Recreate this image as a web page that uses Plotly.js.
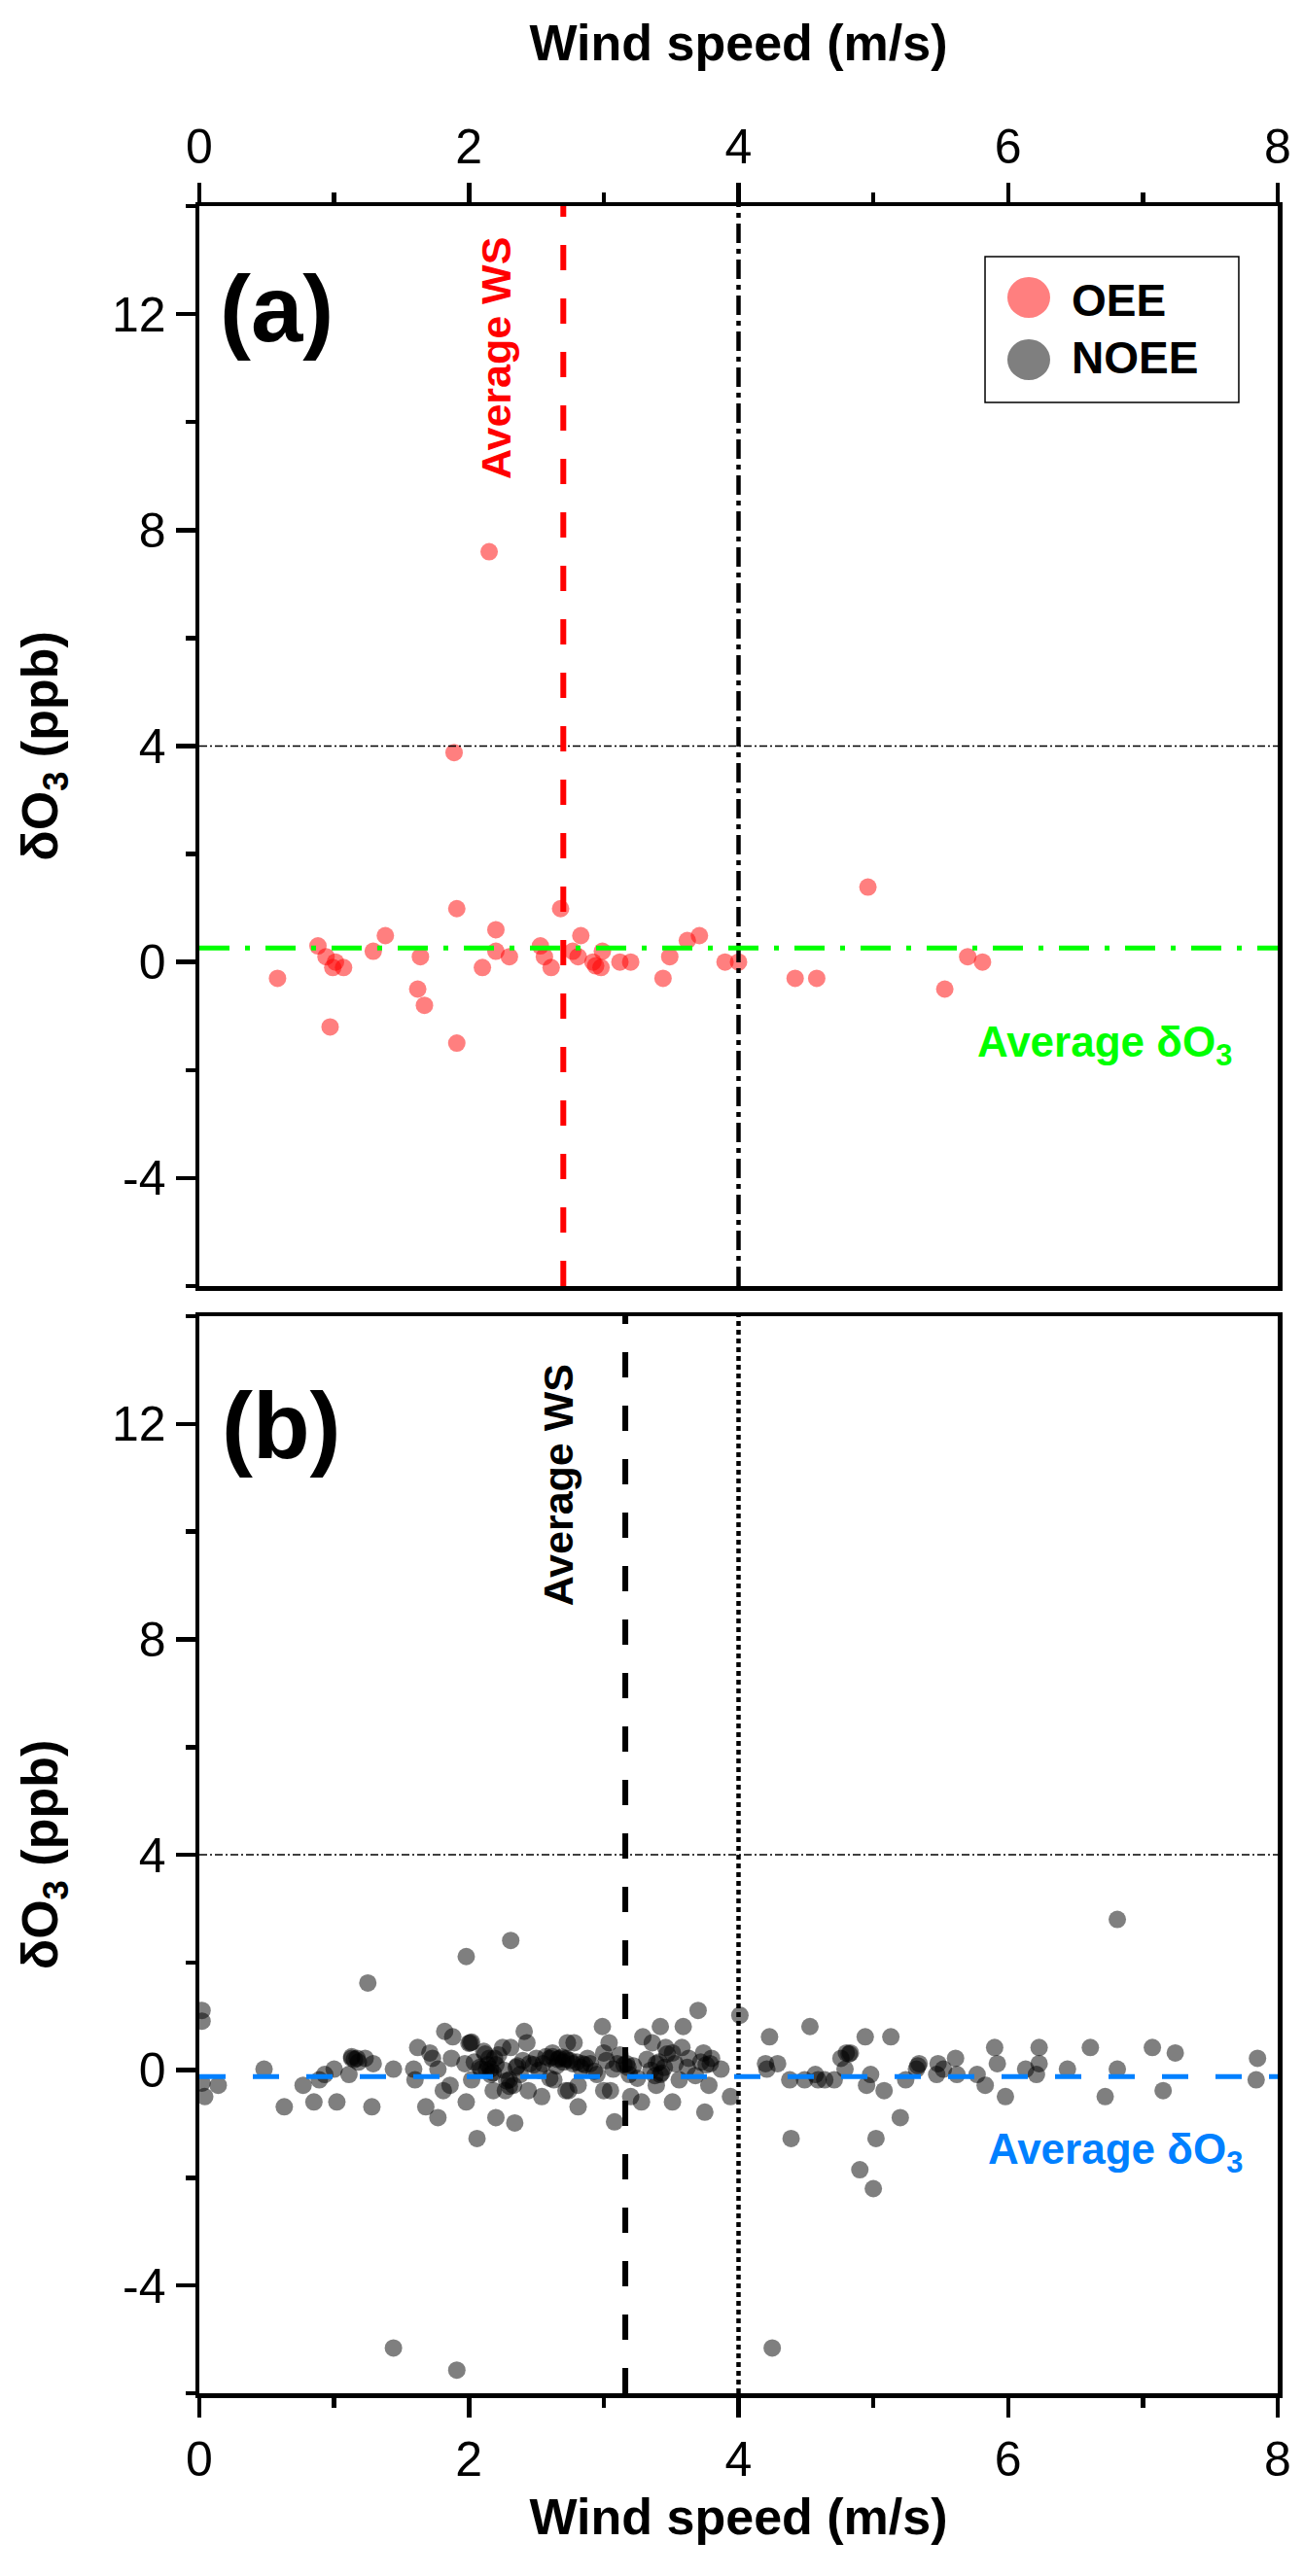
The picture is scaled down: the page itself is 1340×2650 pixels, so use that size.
<!DOCTYPE html>
<html>
<head>
<meta charset="utf-8">
<script src="https://cdn.plot.ly/plotly-3.0.1.min.js"></script>
<style>
  html, body { margin: 0; padding: 0; background: #fff; }
  #chart { width: 1340px; height: 2650px; }
</style>
</head>
<body>
<div id="chart"></div>
<script>
// panel (a): OEE days
const oeeWs = [0.58, 0.88, 0.94, 1.01, 0.99, 1.07, 0.97, 1.29, 1.38, 1.64, 1.62, 1.67, 1.91, 1.91,
  2.10, 2.20, 2.20, 2.30, 2.53, 2.56, 2.61, 2.68, 2.83, 2.77, 2.81, 2.92, 2.99, 2.94, 2.98,
  3.12, 3.20, 3.49, 3.44, 3.62, 3.71, 3.90, 4.00, 4.42, 4.58, 4.96, 5.53, 5.70, 5.81, 2.15, 1.89];
const oeeDo3 = [-0.30, 0.30, 0.10, 0.00, -0.10, -0.10, -1.20, 0.20, 0.49, 0.10, -0.50, -0.80, 0.99, -1.50,
  -0.10, 0.60, 0.20, 0.10, 0.30, 0.10, -0.10, 0.99, 0.49, 0.20, 0.10, 0.00, 0.20, -0.07, -0.10,
  0.00, 0.00, 0.10, -0.30, 0.40, 0.49, 0.00, 0.00, -0.30, -0.30, 1.39, -0.50, 0.10, 0.00, 7.60, 3.88];

// panel (b): NOEE days
const noeeWs = [0.02, 0.02, 0.02, 0.04, 0.14, 0.48, 0.63, 0.77, 0.85, 0.89, 0.93, 1.00, 1.02, 1.11,
  1.13, 1.17, 1.23, 1.29, 1.25, 1.28, 1.44, 1.59, 1.60, 1.62, 1.68, 1.71, 1.73, 1.77, 1.77, 1.81,
  1.82, 1.86, 1.87, 1.88, 1.98, 1.98, 2.01, 1.97, 2.02, 2.06, 2.09, 2.15, 2.16, 2.16, 2.19, 2.31,
  2.20, 2.34, 2.18, 2.25, 2.31, 2.41, 2.43, 2.27, 2.30, 2.33, 2.38, 2.44, 2.54, 2.45, 2.50, 2.55,
  2.60, 2.62, 2.63, 2.67, 2.72, 2.72, 2.73,
  2.00, 2.02, 2.12, 2.14, 2.13, 2.20, 2.28, 2.30, 2.62, 2.66, 2.70, 2.60, 1.13, 1.15,
  2.69, 2.77, 2.84, 2.90, 2.78, 2.74, 2.81, 2.81, 2.99, 3.04, 3.00, 2.95, 3.00, 3.05, 3.08, 3.10,
  3.17, 3.19, 3.20, 3.28, 3.29, 3.36, 3.42, 3.39, 3.39, 3.42, 3.46, 3.51, 3.51, 3.56, 3.59, 3.58,
  3.63, 3.70, 3.74, 3.75, 3.78, 3.79, 3.80, 3.87, 3.94, 4.01, 4.20, 4.21, 4.23, 4.29, 4.39, 4.38,
  4.49, 4.53, 4.57, 4.59, 4.64, 4.71, 4.76, 4.80, 4.83, 4.79, 4.94, 4.95, 4.98, 5.02, 5.08, 5.13,
  5.20, 5.24, 5.32, 5.34,
  2.72, 2.80, 2.86, 3.15, 3.18, 3.38, 3.43, 3.47, 3.72, 3.76, 4.82, 5.33, 4.90, 5.00,
  5.48, 5.47, 5.52, 5.61, 5.62, 5.77, 5.83, 5.90, 5.92, 5.98, 6.13, 6.21, 6.23, 6.23, 6.44, 6.61,
  6.81, 6.72, 7.07, 7.15, 7.24, 7.85, 7.84, 6.81,
  1.44, 1.91, 4.25,
  2.04, 2.08, 2.11, 2.18, 2.22, 2.35, 2.40, 2.48, 2.52, 2.57, 2.65, 2.75, 2.83, 2.88, 2.93,
  3.02, 3.07, 3.12, 3.22, 3.25, 3.32, 3.35, 3.41, 3.45, 3.53, 3.62, 3.68, 1.18, 2.26, 2.36];
const noeeDo3 = [1.11, 0.91, -0.24, -0.49, -0.28, 0.02, -0.68, -0.28, -0.59, -0.18, -0.08, 0.02, -0.59, -0.08,
  0.22, 0.22, 0.22, 0.12, 1.62, -0.68, 0.02, 0.02, -0.18, 0.42, -0.68, 0.32, 0.22, 0.02, -0.88, -0.38,
  0.72, -0.28, 0.22, 0.62, 2.11, -0.59, 0.51, 0.12, -0.18, -1.27, 0.02, 0.22, 0.02, -0.08, 0.22, 2.41,
  -0.88, -0.98, -0.38, 0.42, 0.42, 0.72, 0.51, -0.38, -0.18, -0.28, -0.08, -0.38, -0.49, 0.12, 0.22, 0.12,
  0.22, 0.32, -0.18, 0.22, 0.22, -0.38, 0.51,
  0.50, 0.52, 0.30, 0.10, 0.00, 0.10, -0.20, -0.30, 0.25, 0.20, 0.15, -0.15, 0.25, 0.20,
  0.24, 0.12, 0.12, 0.12, 0.51, -0.38, -0.28, -0.68, 0.81, 0.51, 0.32, -0.08, -0.38, -0.38, -0.96, 0.12,
  0.12, -0.08, -0.49, -0.59, 0.62, 0.51, 0.81, -0.28, 0.12, -0.08, 0.42, 0.32, -0.59, -0.18, 0.81, 0.42,
  0.22, 1.11, 0.32, -0.78, -0.28, 0.12, 0.22, 0.02, -0.49, 1.02, 0.12, 0.02, 0.62, 0.12, -1.27, -0.18,
  -0.18, 0.81, -0.08, -0.18, -0.18, -0.18, 0.22, 0.32, 0.32, 0.02, 0.62, -0.28, -0.08, -1.27, -0.38, 0.62,
  -0.88, -0.18, 0.02, 0.12,
  0.20, 0.15, 0.10, 0.10, 0.05, -0.10, -0.05, 0.30, 0.15, 0.10, 0.30, 0.08, -1.85, -2.20,
  0.12, -0.08, 0.02, 0.22, -0.08, -0.08, -0.28, 0.42, 0.12, -0.49, 0.02, -0.08, 0.42, 0.12, 0.02, 0.42,
  0.02, -0.49, 0.42, -0.38, 0.32, 0.22, -0.18, 2.80,
  -5.16, -5.57, -5.16,
  0.15, 0.05, 0.35, -0.05, 0.28, 0.05, 0.18, 0.10, 0.00, 0.25, 0.08, 0.18, 0.05, 0.22, -0.02,
  0.18, 0.02, 0.28, 0.08, -0.15, 0.20, 0.00, 0.15, 0.05, 0.12, 0.05, -0.10, 0.15, 0.00, 0.08];

// reference values
const avgWsA = 2.70, avgDo3A = 0.26;
const avgWsB = 3.16, avgDo3B = -0.12;
const wsLimit = 4, do3Limit = 4;

const xTickVals = [0, 2, 4, 6, 8];
const xMinorVals = [1, 3, 5, 7];
const yTickVals = [-4, 0, 4, 8, 12];
const yTickText = ['-4', '0', '4', '8', '12'];
const yMinorVals = [-6, -2, 2, 6, 10, 14];

const FONT = 'Arial, "Liberation Sans", sans-serif';
const LW = 4.5;

function xAx(anchor, side, standoff) {
  return {
    anchor: anchor, side: side, domain: [0, 1], range: [0, 8],
    tickmode: 'array', tickvals: xTickVals,
    ticks: 'outside', ticklen: 20, tickwidth: LW, tickcolor: '#000',
    minor: { tickmode: 'array', tickvals: xMinorVals, ticks: 'outside', ticklen: 10, tickwidth: LW, tickcolor: '#000' },
    showline: true, linewidth: LW, linecolor: '#000', mirror: true,
    showgrid: false, zeroline: false,
    tickfont: { family: FONT, size: 50, color: '#000' },
    title: { text: 'Wind speed (m/s)', standoff: standoff, font: { family: FONT, size: 52, weight: 'bold', color: '#000' } }
  };
}
function yAx(anchor, domain) {
  return {
    anchor: anchor, domain: domain, range: [-6, 14],
    tickmode: 'array', tickvals: yTickVals, ticktext: yTickText,
    ticks: 'outside', ticklen: 20, tickwidth: LW, tickcolor: '#000',
    minor: { tickmode: 'array', tickvals: yMinorVals, ticks: 'outside', ticklen: 10, tickwidth: LW, tickcolor: '#000' },
    showline: true, linewidth: LW, linecolor: '#000', mirror: true,
    showgrid: false, zeroline: false,
    tickfont: { family: FONT, size: 50, color: '#000' },
    title: { text: 'δO<sub>3</sub> (ppb)', standoff: 40, font: { family: FONT, size: 52, weight: 'bold', color: '#000' } }
  };
}

const traces = [
  { type: 'scatter', mode: 'markers', x: oeeWs, y: oeeDo3, xaxis: 'x', yaxis: 'y', name: 'OEE',
    marker: { size: 18, color: 'rgba(255,0,0,0.5)', line: { width: 0 } } },
  { type: 'scatter', mode: 'markers', x: noeeWs, y: noeeDo3, xaxis: 'x2', yaxis: 'y2', name: 'NOEE',
    marker: { size: 18, color: 'rgba(0,0,0,0.5)', line: { width: 0 } } }
];

const hLine = (xr, yr, y, color, width, dash) => ({ type: 'line', xref: xr + ' domain', x0: 0, x1: 1, yref: yr, y0: y, y1: y, line: { color: color, width: width, dash: dash } });
const vLine = (xr, yr, x, color, width, dash) => ({ type: 'line', xref: xr, x0: x, x1: x, yref: yr + ' domain', y0: 0, y1: 1, line: { color: color, width: width, dash: dash } });

const shapes = [
  hLine('x', 'y', do3Limit, '#000', 1.5, '8px,3px,2px,3px'),
  hLine('x2', 'y2', do3Limit, '#000', 1.5, '8px,3px,2px,3px'),
  vLine('x', 'y', wsLimit, '#000', LW, '20px,6px,5px,6px'),
  vLine('x2', 'y2', wsLimit, '#000', LW, '5px,4px'),
  hLine('x', 'y', avgDo3A, '#00FF00', 5, '31px,16px,5px,16px'),
  vLine('x', 'y', avgWsA, '#FF0000', 6, '26px,29px'),
  vLine('x2', 'y2', avgWsB, '#000', 6, '26px,29px'),
  hLine('x2', 'y2', avgDo3B, '#0080FF', 5, '27px,28px'),
  // legend box
  { type: 'rect', xref: 'x domain', yref: 'y domain', x0: 0.7286, x1: 0.9639, y0: 0.8182, y1: 0.9532,
    line: { color: '#000', width: 1.5 }, fillcolor: 'rgba(0,0,0,0)' },
  { type: 'circle', xref: 'x domain', yref: 'y domain', x0: 0.7493, x1: 0.789, y0: 0.8965, y1: 0.9343,
    line: { width: 0 }, fillcolor: 'rgba(255,0,0,0.5)' },
  { type: 'circle', xref: 'x domain', yref: 'y domain', x0: 0.7493, x1: 0.789, y0: 0.8389, y1: 0.8767,
    line: { width: 0 }, fillcolor: 'rgba(0,0,0,0.5)' }
];

const ann = (xr, yr, x, y, text, size, color, extra) => Object.assign({
  xref: xr, yref: yr, x: x, y: y, text: text, showarrow: false,
  xanchor: 'center', yanchor: 'middle',
  font: { family: FONT, size: size, color: color, weight: 'bold' }
}, extra || {});

const annotations = [
  ann('x domain', 'y domain', 0.072, 0.9046, '(a)', 96, '#000'),
  ann('x2 domain', 'y2 domain', 0.076, 0.8989, '(b)', 96, '#000'),
  ann('x domain', 'y domain', 0.275, 0.8596, 'Average WS', 43, '#FF0000', { textangle: -90 }),
  ann('x2 domain', 'y2 domain', 0.333, 0.843, 'Average WS', 43, '#000', { textangle: -90 }),
  ann('x domain', 'y domain', 0.8395, 0.223, 'Average δO<sub>3</sub>', 44, '#00FF00'),
  ann('x2 domain', 'y2 domain', 0.849, 0.224, 'Average δO<sub>3</sub>', 44, '#0080FF'),
  ann('x domain', 'y domain', 0.807, 0.9125, 'OEE', 46, '#000', { xanchor: 'left' }),
  ann('x domain', 'y domain', 0.807, 0.8596, 'NOEE', 46, '#000', { xanchor: 'left' })
];

const layout = {
  width: 1340, height: 2650,
  margin: { l: 205, r: 26, t: 212, b: 188 },
  paper_bgcolor: '#fff', plot_bgcolor: '#fff',
  showlegend: false,
  font: { family: FONT, color: '#000' },
  xaxis: xAx('y', 'top', 45),
  yaxis: yAx('x', [0.5062, 1]),
  xaxis2: xAx('y2', 'bottom', 15),
  yaxis2: yAx('x2', [0, 0.4924]),
  shapes: shapes,
  annotations: annotations
};

Plotly.newPlot('chart', traces, layout, { staticPlot: true });
</script>
</body>
</html>
